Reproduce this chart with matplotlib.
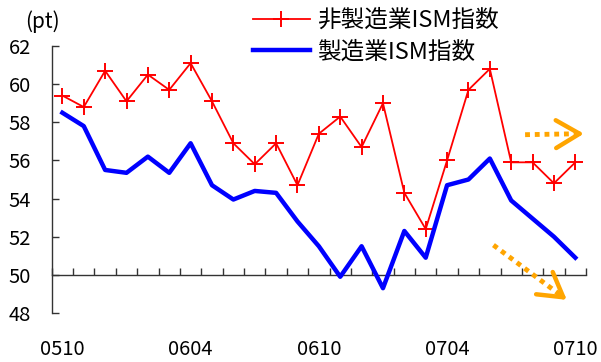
import matplotlib
matplotlib.use("Agg")
import matplotlib.pyplot as plt

plt.rcParams["font.family"] = ["Noto Sans CJK JP", "DejaVu Sans"]

# monthly categories 2005/10 .. 2007/10
MONTHS = [f"{y:02d}{m:02d}" for y in (5, 6, 7) for m in range(1, 13)
          if (y, m) >= (5, 10) and (y, m) <= (7, 10)]
TICK_LABELS = ["0510", "0604", "0610", "0704", "0710"]

NON_MFG = [59.4, 58.8, 60.7, 59.1, 60.5, 59.7, 61.1, 59.1, 56.9, 55.8,
           56.9, 54.7, 57.4, 58.3, 56.7, 59.0, 54.3, 52.4, 56.0, 59.7,
           60.8, 55.9, 55.9, 54.8, 55.9]
MFG = [58.5, 57.8, 55.5, 55.35, 56.2, 55.35, 56.9, 54.7, 53.95, 54.4,
       54.3, 52.8, 51.5, 49.9, 51.5, 49.3, 52.3, 50.9, 54.7, 55.0,
       56.1, 53.9, 52.95, 52.0, 50.9]

ORANGE = "#FFA500"

fig = plt.figure(figsize=(6.01, 3.62), dpi=100)
ax = fig.add_axes([51.7 / 601, 1 - 313 / 362, (586 - 51.7) / 601, (313 - 46) / 362])

x = list(range(len(MONTHS)))
ax.plot(x, NON_MFG, color="red", lw=1.3, marker="+", markersize=12,
        markeredgewidth=1.4, label="非製造業ISM指数", zorder=3)
ax.plot(x, MFG, color="blue", lw=3.2, label="製造業ISM指数", zorder=3)

# trend arrows: dotted shafts with open heads
arrows = [((21.65, 57.35), (24.2, 57.4)), ((20.17, 51.56), (23.35, 48.9))]
for (x0, y0), (x1, y1) in arrows:
    ax.plot([x0, x1], [y0, y1], color=ORANGE, lw=3.5, ls=(0, (1, 1)),
            solid_capstyle="butt", zorder=4, clip_on=False)
    dx, dy = x1 - x0, y1 - y0
    ax.annotate("", xy=(x1 + dx * 0.08, y1 + dy * 0.08), xytext=(x1 - dx * 0.05, y1 - dy * 0.05),
                arrowprops=dict(arrowstyle="->, head_length=0.85, head_width=0.5",
                                color=ORANGE, lw=3.2, mutation_scale=20,
                                shrinkA=0, shrinkB=0),
                annotation_clip=False, zorder=4)

ax.set_xlim(-0.5, len(MONTHS) - 0.5)
ax.set_ylim(48, 62)
ax.set_yticks(range(48, 63, 2))

for side in ("top", "right"):
    ax.spines[side].set_visible(False)
ax.spines["bottom"].set_position(("data", 50))
for side in ("left", "bottom"):
    ax.spines[side].set_linewidth(1.0)
    ax.spines[side].set_color("#333333")

ax.set_xticks([MONTHS.index(t) for t in TICK_LABELS])
ax.set_xticklabels(TICK_LABELS)
ax.set_xticks([i - 0.5 for i in range(len(MONTHS) + 1)], minor=True)
ax.tick_params(axis="x", which="major", length=0, pad=46, labelsize=14.5)
ax.tick_params(axis="x", which="minor", direction="in", length=5, width=1, color="#333333")
ax.tick_params(axis="y", direction="in", length=5, width=1, color="#333333",
               pad=15, labelsize=14.5)

fig.text(25 / 601, 1 - 22 / 362, "(pt)", fontsize=15, va="center", ha="left")

ax.legend(loc="upper left", bbox_to_anchor=(253 / 601, 0.975), bbox_transform=fig.transFigure,
          frameon=False, fontsize=17, borderpad=0, borderaxespad=0,
          handlelength=2.4, handletextpad=0.3, labelspacing=0.35)

fig.savefig("out.png", dpi=100)
